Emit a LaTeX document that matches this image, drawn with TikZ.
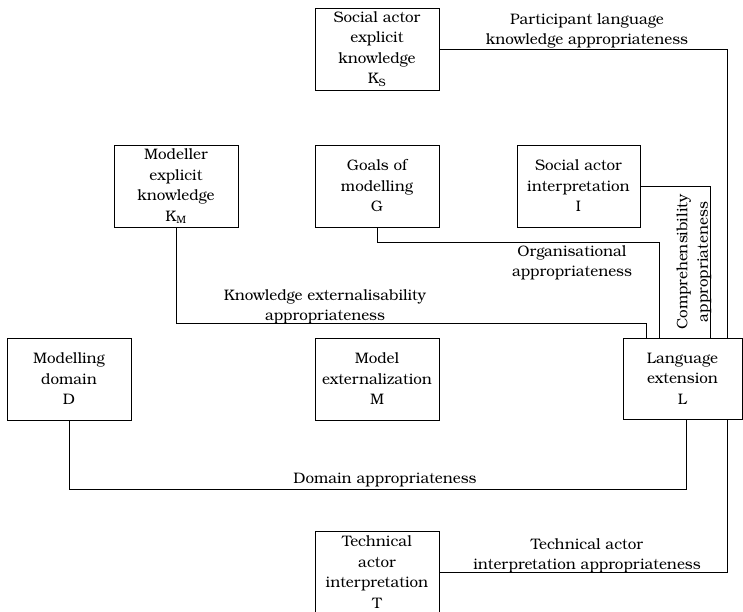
\documentclass[tikz,border=0pt]{standalone}
\usepackage{fontspec}
\setmainfont{TeX Gyre Bonum}
\usetikzlibrary{positioning}
\begin{document}
\begin{tikzpicture}[x=1pt, y=-1pt,
  box/.style={draw, line width=0.9pt, minimum width=124pt, minimum height=82pt,
    align=center, inner sep=0pt, font=\fontsize{15.2}{20.5}\selectfont},
  lbl/.style={align=center, inner sep=0pt, font=\fontsize{15.2}{20.5}\selectfont},
  wire/.style={line width=0.9pt}]
\useasboundingbox (0,0) rectangle (743,612);
\clip (0,0) rectangle (743,612);
\fill[white] (0,0) rectangle (743,612);

% boxes
\node[box] (KS) at (377,49) {Social actor\\explicit\\knowledge\\K\textsubscript{S}};
\node[box] (KM) at (176,186) {Modeller\\explicit\\knowledge\\K\textsubscript{M}};
\node[box] (G)  at (377,186) {Goals of\\modelling\\G};
\node[box, minimum width=123pt] (I) at (578.5,186) {Social actor\\interpretation\\I};
\node[box] (D)  at (69,379) {Modelling\\domain\\D};
\node[box] (M)  at (377,379) {Model\\externalization\\M};
\node[box, minimum width=119pt, minimum height=81pt] (L) at (682.5,378.5) {Language\\extension\\L};
\node[box] (T)  at (377,572) {Technical\\actor\\interpretation\\T};

% connectors to the language extension
\draw[wire] (KS.east) -| ([xshift=44.5pt]L.north);
\draw[wire] (I.east) -| ([xshift=27.5pt]L.north);
\draw[wire] (G.south) -- ++(0,15) -| ([xshift=-23.5pt]L.north);
\draw[wire] (KM.south) -- ++(0,96) -| ([xshift=-36.5pt]L.north);
\draw[wire] (D.south) -- ++(0,69) -| ([xshift=3.5pt]L.south);
\draw[wire] (T.east) -| ([xshift=44.5pt]L.south);

% connector labels
\node[lbl] (pl) at (587,31) {Participant language\\knowledge appropriateness};
\node[lbl] (og) at (572,263) {Organisational\\appropriateness};
\node[lbl, rotate=90] (co) at (694,262) {Comprehensibility\\appropriateness};
\node[lbl] (ke) at (325,307) {Knowledge externalisability\\appropriateness};
\node[lbl] (da) at (385,480) {Domain appropriateness};
\node[lbl] (ta) at (587,556) {Technical actor\\interpretation appropriateness};
\end{tikzpicture}
\end{document}
